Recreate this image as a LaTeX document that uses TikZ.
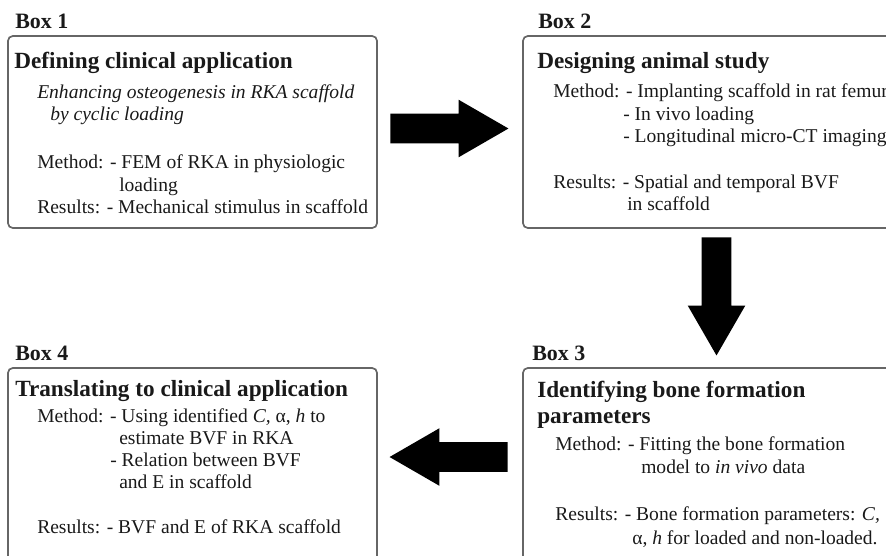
\documentclass[tikz,border=0pt]{standalone}
\usepackage{fontspec}
\setmainfont{Liberation Serif}
\usetikzlibrary{shapes.arrows}

\tikzset{
  panel/.style={draw=black!60, line width=1.2pt, rounded corners=3.5pt,
    minimum width=9.225cm, minimum height=4.8cm, inner sep=0pt},
  boxlabel/.style={anchor=base west, inner sep=0pt, text=black!90,
    font=\fontsize{15.6}{18}\selectfont\bfseries},
  heading/.style={anchor=base west, inner sep=0pt, text=black!90,
    font=\fontsize{16.5}{19}\selectfont\bfseries},
  txt/.style={anchor=base west, inner sep=0pt, text=black!90,
    font=\fontsize{13.9}{16}\selectfont},
  blockarrow/.style={single arrow, fill=black, inner xsep=0pt,
    inner ysep=0.3625cm, single arrow head extend=0.35cm,
    single arrow tip angle=60, minimum height=2.95cm, anchor=tip}
}

\begin{document}
\begin{tikzpicture}[x=0.025cm, y=-0.025cm]
    \useasboundingbox (0,0) rectangle (886,555);
    \clip (0,0) rectangle (886,555);

    % Riquadri
    \node[panel] (box1) at (192.5,132) {};
    \node[panel] (box2) at (707.5,132) {};
    \node[panel, minimum height=5.3cm] (box3) at (707.5,474) {};
    \node[panel, minimum height=5.3cm] (box4) at (192.5,474) {};

    % Box 1
    \node[boxlabel] (lab1) at (15,28) {Box 1};
    \node[heading] (h1) at (14,68) {Defining clinical application};
    \node[txt, font=\fontsize{13.9}{16}\selectfont\itshape] (a1) at (37,98) {Enhancing osteogenesis in RKA scaffold};
    \node[txt, font=\fontsize{13.9}{16}\selectfont\itshape] (a2) at (50,120) {by cyclic loading};
    \node[txt] (a3) at (37,168) {Method: - FEM of RKA in physiologic};
    \node[txt] (a4) at (119,191) {loading};
    \node[txt] (a5) at (37,213) {Results: - Mechanical stimulus in scaffold};

    % Box 2
    \node[boxlabel] (lab2) at (538,28) {Box 2};
    \node[heading] (h2) at (537,68) {Designing animal study};
    \node[txt] (b1) at (553,97) {Method: - Implanting scaffold in rat femur};
    \node[txt] (b2) at (623,120) {- In vivo loading};
    \node[txt] (b3) at (623,142) {- Longitudinal micro-CT imaging};
    \node[txt] (b4) at (553,188) {Results: - Spatial and temporal BVF};
    \node[txt] (b5) at (627,210) {in scaffold};

    % Box 3
    \node[boxlabel] (lab3) at (532,360) {Box 3};
    \node[heading] (h3) at (537,397) {Identifying bone formation};
    \node[heading] (h3b) at (537,423) {parameters};
    \node[txt] (c1) at (555,450) {Method: - Fitting the bone formation};
    \node[txt] (c2) at (641,473) {model to \textit{in vivo} data};
    \node[txt] (c3) at (555,520) {Results: - Bone formation parameters: \textit{C,}};
    \node[txt] (c4) at (632,544) {α, \textit{h} for loaded and non-loaded.};

    % Box 4
    \node[boxlabel] (lab4) at (15,360) {Box 4};
    \node[heading] (h4) at (15,396) {Translating to clinical application};
    \node[txt] (d1) at (37,422) {Method: - Using identified \textit{C,} α, \textit{h} to};
    \node[txt] (d2) at (119,444) {estimate BVF in RKA};
    \node[txt] (d3) at (110,466) {- Relation between BVF};
    \node[txt] (d4) at (119,488) {and E in scaffold};
    \node[txt] (d5) at (37,533) {Results: - BVF and E of RKA scaffold};

    % Frecce
    \node[blockarrow] (f12) at (509,128.5) {};
    \node[blockarrow, rotate=-90] (f23) at (716.5,356) {};
    \node[blockarrow, rotate=180] (f34) at (389,457) {};

\end{tikzpicture}
\end{document}
